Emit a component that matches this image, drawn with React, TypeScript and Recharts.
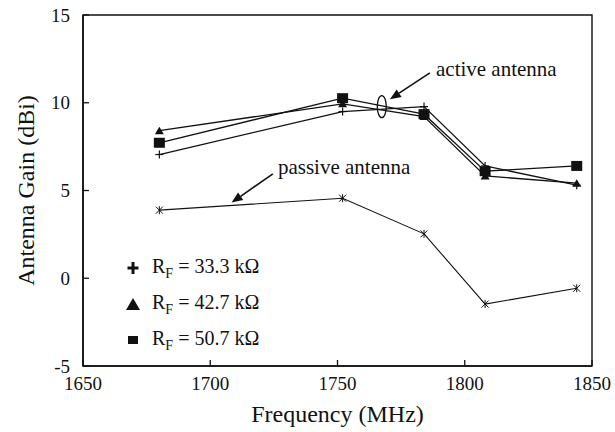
import {
  LineChart,
  Line,
  XAxis,
  YAxis,
  Label,
  Legend,
  ReferenceArea,
  ReferenceDot,
  ReferenceLine,
} from "recharts";

const freqs = [1680, 1752, 1784, 1808, 1844];
const rf333 = [7.05, 9.5, 9.78, 6.4, 5.3];
const rf427 = [8.41, 9.94, 9.21, 5.83, 5.42];
const rf507 = [7.72, 10.26, 9.35, 6.1, 6.4];
const passive = [3.88, 4.56, 2.53, -1.47, -0.57];

const xTicks = [1650, 1700, 1750, 1800, 1850];
const yTicks = [-5, 0, 5, 10, 15];

const legendRows = [
  { key: "rf333", value: "33.3" },
  { key: "rf427", value: "42.7" },
  { key: "rf507", value: "50.7" },
];

const rows = freqs.map((f, i) => ({
  f,
  rf333: rf333[i],
  rf427: rf427[i],
  rf507: rf507[i],
  passive: passive[i],
}));

const INK = "#111";
const FONT = "'Liberation Serif', Tinos, 'Nimbus Roman', 'DejaVu Serif', serif";
const X_MARGIN = 11;
const Y_MARGIN = 13;

function XTick({ x, y, payload }: any) {
  const axisY = y - X_MARGIN;
  return (
    <g>
      <line x1={x} x2={x} y1={axisY} y2={axisY - 6} stroke={INK} strokeWidth={1.3} />
      <text x={x} y={y} dy="0.71em" textAnchor="middle" fontSize={19} style={{ fontFamily: FONT }} fill={INK}>
        {payload.value}
      </text>
    </g>
  );
}

function YTick({ x, y, payload }: any) {
  const axisX = x + Y_MARGIN;
  return (
    <g>
      <line x1={axisX} x2={axisX + 6} y1={y} y2={y} stroke={INK} strokeWidth={1.3} />
      <text x={x} y={y} dy="0.355em" textAnchor="end" fontSize={19} style={{ fontFamily: FONT }} fill={INK}>
        {payload.value}
      </text>
    </g>
  );
}

// markers
const plusDot = (p: any) => (
  <g key={`pl-${p.index}`} stroke={INK} strokeWidth={1.2}>
    <line x1={p.cx - 4} x2={p.cx + 4} y1={p.cy} y2={p.cy} />
    <line x1={p.cx} x2={p.cx} y1={p.cy - 4} y2={p.cy + 4} />
  </g>
);

const triDot = (p: any) => (
  <polygon
    key={`tr-${p.index}`}
    points={`${p.cx - 4.5},${p.cy + 3.5} ${p.cx + 4.5},${p.cy + 3.5} ${p.cx},${p.cy - 4}`}
    fill={INK}
  />
);

const squareDot = (p: any) => (
  <rect key={`sq-${p.index}`} x={p.cx - 5.5} y={p.cy - 5} width={11} height={10} fill={INK} />
);

const starDot = (p: any) => (
  <g key={`st-${p.index}`} stroke={INK} strokeWidth={1}>
    <line x1={p.cx - 3.5} x2={p.cx + 3.5} y1={p.cy - 3.5} y2={p.cy + 3.5} />
    <line x1={p.cx - 3.5} x2={p.cx + 3.5} y1={p.cy + 3.5} y2={p.cy - 3.5} />
    <line x1={p.cx} x2={p.cx} y1={p.cy - 4} y2={p.cy + 4} />
  </g>
);

function LegendMark({ kind }: { kind: string }) {
  return (
    <svg width={22} height={22} style={{ display: "block" }}>
      {kind === "rf333" && (
        <g stroke={INK} strokeWidth={3}>
          <line x1={5.5} x2={16.5} y1={11} y2={11} />
          <line x1={11} x2={11} y1={5} y2={17} />
        </g>
      )}
      {kind === "rf427" && <polygon points="4,17 18,17 11,5" fill={INK} />}
      {kind === "rf507" && <rect x={6} y={7} width={10} height={8} fill={INK} />}
    </svg>
  );
}

function LegendBox() {
  return (
    <div style={{ fontFamily: FONT, fontSize: 20, color: INK }}>
      {legendRows.map((r) => (
        <div key={r.key} style={{ display: "flex", alignItems: "center", height: 36 }}>
          <LegendMark kind={r.key} />
          <span style={{ marginLeft: 8, whiteSpace: "nowrap" }}>
            R<sub style={{ fontSize: 14, verticalAlign: -5 }}>F</sub> = {r.value} k&Omega;
          </span>
        </div>
      ))}
    </div>
  );
}

function Arrow(p: any) {
  const { x1, y1, x2, y2 } = p;
  const a = Math.atan2(y2 - y1, x2 - x1);
  const len = 11;
  const w = 4.5;
  const bx = x2 - len * Math.cos(a);
  const by = y2 - len * Math.sin(a);
  const nx = -Math.sin(a) * w;
  const ny = Math.cos(a) * w;
  return (
    <g>
      <line x1={x1} y1={y1} x2={bx} y2={by} stroke={INK} strokeWidth={1.6} />
      <polygon points={`${x2},${y2} ${bx + nx},${by + ny} ${bx - nx},${by - ny}`} fill={INK} />
    </g>
  );
}

const note = (txt: string) => (p: any) =>
  (
    <text x={p.cx} y={p.cy} fontSize={21} style={{ fontFamily: FONT }} fill={INK}>
      {txt}
    </text>
  );

export default function App() {
  return (
    <div
      style={{
        position: "absolute",
        left: 0,
        top: 0,
        width: 615,
        height: 432,
        background: "#fff",
        fontFamily: FONT,
      }}
    >
      <LineChart width={615} height={432} data={rows} margin={{ top: 15, right: 23, left: 0, bottom: 0 }}>
        <ReferenceArea x1={1650} x2={1850} y1={-5} y2={15} fill="none" stroke={INK} strokeWidth={1.4} />
        <XAxis
          dataKey="f"
          type="number"
          domain={[1650, 1850]}
          ticks={xTicks}
          height={66}
          tickSize={0}
          tickMargin={X_MARGIN}
          tick={<XTick />}
          axisLine={{ stroke: INK, strokeWidth: 1.6 }}
          allowDataOverflow
        >
          <Label
            content={({ viewBox }: any) => (
              <text
                x={viewBox.x + viewBox.width / 2}
                y={422}
                textAnchor="middle"
                fontSize={24}
                style={{ fontFamily: FONT }}
                fill={INK}
              >
                Frequency (MHz)
              </text>
            )}
          />
        </XAxis>
        <YAxis
          type="number"
          domain={[-5, 15]}
          ticks={yTicks}
          width={83}
          tickSize={0}
          tickMargin={Y_MARGIN}
          tick={<YTick />}
          axisLine={{ stroke: INK, strokeWidth: 1.6 }}
          allowDataOverflow
        >
          <Label
            content={({ viewBox }: any) => {
              const cy = viewBox.y + viewBox.height / 2;
              return (
                <text
                  x={26}
                  y={cy}
                  transform={`rotate(-90 26 ${cy})`}
                  textAnchor="middle"
                  dominantBaseline="central"
                  fontSize={24}
                  style={{ fontFamily: FONT }}
                  fill={INK}
                >
                  Antenna Gain (dBi)
                </text>
              );
            }}
          />
        </YAxis>

        <Line dataKey="rf333" stroke={INK} strokeWidth={1.3} dot={plusDot} isAnimationActive={false} />
        <Line dataKey="rf427" stroke={INK} strokeWidth={1.3} dot={triDot} isAnimationActive={false} />
        <Line dataKey="rf507" stroke={INK} strokeWidth={1.3} dot={squareDot} isAnimationActive={false} />
        <Line dataKey="passive" stroke={INK} strokeWidth={1.1} dot={starDot} isAnimationActive={false} />

        {/* annotations */}
        <ReferenceDot
          x={1767.4}
          y={9.78}
          r={0}
          shape={(p: any) => <ellipse cx={p.cx} cy={p.cy} rx={4.5} ry={11} fill="none" stroke={INK} strokeWidth={1.3} />}
        />
        <ReferenceLine segment={[{ x: 1786.3, y: 11.7 }, { x: 1770.6, y: 10.2 }]} shape={Arrow} />
        <ReferenceDot x={1788.7} y={11.53} r={0} shape={note("active antenna")} />
        <ReferenceLine segment={[{ x: 1724.6, y: 5.95 }, { x: 1708.4, y: 4.31 }]} shape={Arrow} />
        <ReferenceDot x={1726.6} y={5.95} r={0} shape={note("passive antenna")} />

        <Legend
          layout="vertical"
          align="center"
          verticalAlign="middle"
          content={() => <LegendBox />}
          wrapperStyle={{ left: 122, top: 250, width: 160, height: 110 }}
        />
      </LineChart>
    </div>
  );
}
